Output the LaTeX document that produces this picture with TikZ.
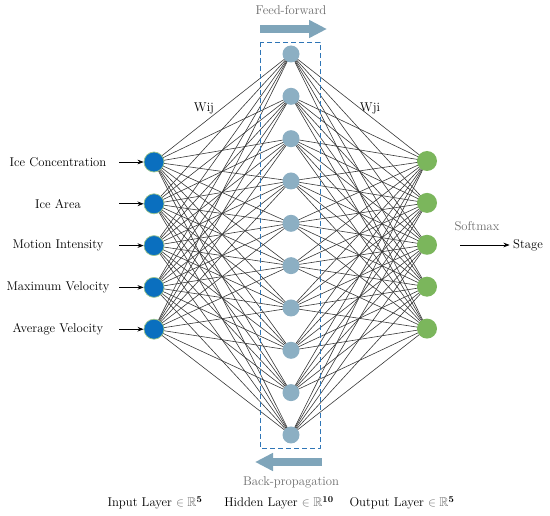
\documentclass[tikz,border=0pt]{standalone}
\usepackage{amsfonts,amsmath,amssymb}
\usetikzlibrary{arrows.meta,backgrounds}
\definecolor{inblue}{HTML}{0A6FBF}
\definecolor{inrim}{HTML}{9CC48A}
\definecolor{hidblue}{HTML}{8CAFC3}
\definecolor{outgreen}{HTML}{7BB65C}
\definecolor{flowblue}{HTML}{7FA5BA}
\definecolor{dashblue}{HTML}{2E75B6}
\definecolor{gray}{HTML}{6B6B6B}
\tikzset{
  every picture/.style={font=\fontsize{12.7}{15}\selectfont, line join=round, >=Stealth},
  unit/.style={circle, inner sep=0pt},
  inunit/.style={unit, minimum size=20pt, fill=inblue, draw=inrim, line width=0.7pt},
  hidunit/.style={unit, minimum size=17pt, fill=hidblue},
  outunit/.style={unit, minimum size=20pt, fill=outgreen},
  weight/.style={line width=0.6pt, draw=black!78},
  flow/.style={line width=8pt, draw=flowblue, -{Triangle[width=17pt,length=18pt]}},
}

\begin{document}
\begin{tikzpicture}[x=1pt,y=-1pt]
\useasboundingbox (0,0) rectangle (550,516);
% layers
\foreach \i/\txt [evaluate=\i as \yy using 162+41.8*(\i-1)] in
  {1/Ice Concentration,2/Ice Area,3/Motion Intensity,4/Maximum Velocity,5/Average Velocity}{
  \node[inunit] (in\i) at (154,\yy) {};
  \node (feat\i) at (58,\yy) {\txt};
  \coordinate (src\i) at (119,\yy);
}
\foreach \j [evaluate=\j as \yy using 54+42.33*(\j-1)] in {1,...,10}
  \node[hidunit] (hid\j) at (291,\yy) {};
\foreach \k [evaluate=\k as \yy using 161+41.9*(\k-1)] in {1,...,5}
  \node[outunit] (out\k) at (427,\yy) {};
% weights
\begin{pgfonlayer}{background}
\foreach \i in {1,...,5}
  \foreach \j in {1,...,10}
    \draw[weight] (in\i.center) -- (hid\j.center);
\foreach \j in {1,...,10}
  \foreach \k in {1,...,5}
    \draw[weight] (hid\j.center) -- (out\k.center);
\end{pgfonlayer}
% input arrows
\foreach \i in {1,...,5}
  \draw[->, line width=0.7pt] (src\i) -- (in\i);
% hidden box and flows
\draw[dashblue, line width=0.9pt, dash pattern=on 5pt off 3pt] (260,42) rectangle (320,448);
\coordinate (ffa) at (260,29);
\coordinate (ffb) at (327,29);
\draw[flow] (ffa) -- (ffb);
\node[gray] (ff) at (291,10) {Feed-forward};
\coordinate (bpa) at (322,462);
\coordinate (bpb) at (255,462);
\draw[flow] (bpa) -- (bpb);
\node[gray] (bp) at (291,482) {Back-propagation};
\node (wij) at (204,108) {Wij};
\node (wji) at (370,108) {Wji};
% output side
\node (stage) at (528,245) {Stage};
\coordinate (smx) at (460,245);
\draw[->, line width=0.7pt] (smx) -- (stage.west);
\node[gray] (softmax) at (477,226) {Softmax};
% layer names
\node (inlab) at (155,503) {Input Layer \textcolor{gray}{$\in\mathbb{R}$}$^{\mathbf{5}}$};
\node (hidlab) at (279,503) {Hidden Layer \textcolor{gray}{$\in\mathbb{R}$}$^{\mathbf{10}}$};
\node (outlab) at (402,503) {Output Layer \textcolor{gray}{$\in\mathbb{R}$}$^{\mathbf{5}}$};
\end{tikzpicture}
\end{document}
